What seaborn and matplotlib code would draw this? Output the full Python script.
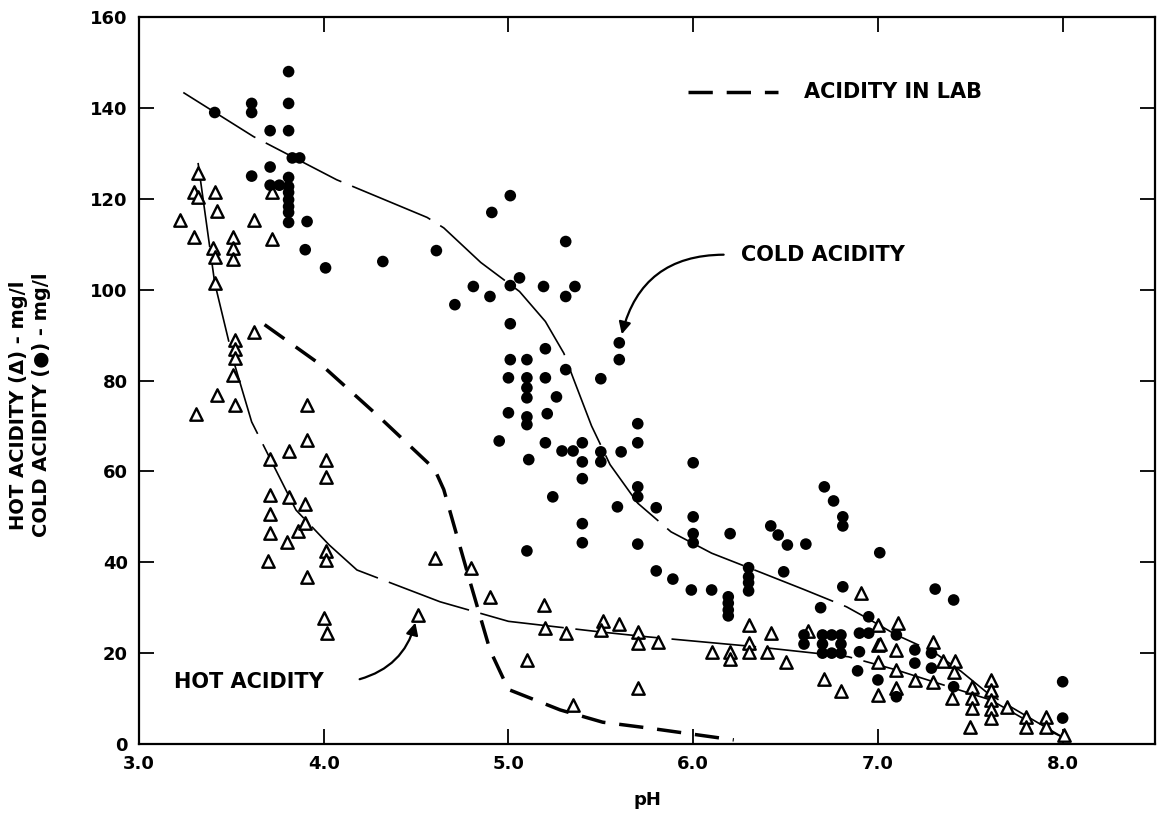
"""Hot and cold acidity against pH, redrawn from a scanned figure."""
import matplotlib

matplotlib.use("Agg")
import matplotlib.pyplot as plt
import pandas as pd
import seaborn as sns

INK = "black"

# cold acidity (filled circles)
cold_ph = [3.41, 3.61, 3.61, 3.71, 3.81, 3.81, 3.81, 3.83, 3.87, 3.71, 3.61, 3.71, 3.76,
           3.81, 3.81, 3.81, 3.81, 3.81, 3.81, 3.81, 3.91, 3.90, 4.01, 4.32, 4.61, 4.71,
           4.81, 4.90, 4.91, 5.01, 5.06, 5.01, 5.31, 5.19, 5.36, 5.31, 5.01, 5.20, 5.60,
           5.60, 5.01, 5.10, 5.00, 5.10, 5.20, 5.31, 5.50, 5.10, 5.10, 5.26, 5.00, 5.10,
           5.10, 5.21, 5.70, 5.70, 4.95, 5.20, 5.29, 5.35, 5.40, 5.50, 5.61, 5.11, 5.40,
           5.50, 6.00, 5.40, 5.70, 5.24, 5.70, 5.59, 5.80, 6.00, 6.00, 6.00, 6.20, 5.70,
           5.80, 5.89, 5.99, 6.10, 6.19, 6.19, 6.19, 6.19, 6.30, 6.30, 6.30, 6.30, 6.71,
           6.76, 6.81, 6.81, 6.42, 6.46, 6.51, 6.61, 6.49, 7.01, 6.81, 6.69, 5.10, 5.40,
           5.40, 7.31, 7.41, 8.00, 8.00, 6.95, 6.90, 6.95, 6.90, 6.89, 7.00, 7.10, 7.20,
           7.20, 7.29, 7.29, 7.10, 7.41, 6.60, 6.60, 6.70, 6.70, 6.70, 6.75, 6.75, 6.80,
           6.80, 6.80]
cold_val = [139, 141, 139, 135, 135, 148, 141, 129, 129, 127, 125, 123, 123,
            124.7, 122.7, 121.4, 119.8, 118.3, 117, 114.8, 115, 108.8, 104.8, 106.2, 108.6, 96.7,
            100.7, 98.5, 117, 120.7, 102.6, 100.9, 110.6, 100.7, 100.7, 98.5, 92.5, 87, 88.3,
            84.6, 84.6, 84.6, 80.6, 80.6, 80.6, 82.4, 80.4, 78.4, 76.2, 76.4, 72.9, 72,
            70.3, 72.7, 70.5, 66.3, 66.7, 66.3, 64.5, 64.5, 66.3, 64.3, 64.3, 62.6, 62.1,
            62.1, 61.9, 58.4, 56.6, 54.4, 54.4, 52.2, 52, 50, 46.3, 44.3, 46.3, 44,
            38.1, 36.3, 33.9, 33.9, 32.4, 31, 29.5, 28.2, 38.8, 36.8, 35.5, 33.7, 56.6,
            53.5, 50, 48, 48, 46, 43.8, 44, 37.9, 42.1, 34.6, 30, 42.5, 48.5,
            44.3, 34.1, 31.7, 13.7, 5.7, 28, 24.4, 24.4, 20.3, 16.1, 14.1, 24, 20.7,
            17.8, 20, 16.7, 10.4, 12.6, 24, 22, 24, 22, 20, 24, 20, 24,
            22, 20]

# hot acidity (open triangles)
hot_ph = [3.32, 3.30, 3.32, 3.41, 3.42, 3.22, 3.30, 3.40, 3.41, 3.51, 3.51, 3.51, 3.62,
          3.72, 3.72, 3.41, 3.52, 3.52, 3.52, 3.51, 3.62, 3.42, 3.52, 3.31, 3.91, 3.91,
          3.81, 4.01, 4.01, 3.71, 3.71, 3.81, 3.90, 3.71, 3.71, 3.86, 3.90, 3.80, 3.70,
          4.01, 4.01, 3.91, 4.00, 4.02, 4.60, 4.51, 4.90, 4.80, 5.10, 5.19, 5.20, 5.31,
          5.35, 5.51, 5.60, 5.50, 5.70, 5.70, 5.81, 5.70, 6.10, 6.20, 6.20, 6.30, 6.30,
          6.30, 6.42, 6.40, 6.50, 6.62, 6.71, 6.80, 6.91, 7.00, 7.00, 7.00, 7.00, 7.11,
          7.01, 7.10, 7.10, 7.10, 7.30, 7.35, 7.42, 7.20, 7.30, 7.41, 7.40, 7.51, 7.51,
          7.51, 7.50, 7.61, 7.61, 7.61, 7.61, 7.61, 7.70, 7.80, 7.80, 7.91, 7.91, 8.01]
hot_val = [125.7, 121.4, 120.3, 121.4, 117.4, 115.4, 111.5, 109.2, 107.3, 111.5, 109.2, 106.8, 115.4,
           121.4, 111.2, 101.5, 89, 87, 85, 81.3, 90.7, 76.9, 74.7, 72.7, 74.7, 67,
           64.5, 62.6, 58.8, 62.8, 54.8, 54.4, 52.9, 50.7, 46.5, 46.9, 48.7, 44.5, 40.3,
           42.5, 40.5, 36.8, 27.8, 24.4, 41, 28.4, 32.4, 38.8, 18.5, 30.6, 25.5, 24.4,
           8.6, 27.1, 26.4, 25, 24.7, 22.2, 22.5, 12.3, 20.3, 20.3, 18.7, 26.2, 22.2,
           20.3, 24.4, 20.3, 18.1, 24.9, 14.3, 11.7, 33.3, 26.2, 21.8, 18.1, 10.8, 26.7,
           22, 20.7, 16.3, 12.3, 22.5, 18.3, 18.3, 14.1, 13.7, 15.9, 10.1, 12.6, 10.1,
           7.9, 3.7, 14.1, 11.9, 9.7, 7.7, 5.7, 8.1, 5.9, 3.7, 5.9, 3.7, 2]

# hand-drawn fit curves
cold_curve_ph = [3.24, 3.62, 4.07, 4.56, 4.65, 4.85, 5.06, 5.20, 5.30, 5.35, 5.45, 5.55,
                 5.70, 5.88, 6.10, 6.37, 6.60, 6.83, 6.95, 7.10, 7.30, 7.45, 7.60, 8.00]
cold_curve_val = [143.4, 133.7, 124.2, 115.9, 113.6, 106, 99.6, 93, 86, 80.6, 70, 61.5,
                  53, 46.7, 42, 37.7, 34, 30.2, 27.5, 24, 20.3, 16, 11, 1.5]
hot_curve_ph = [3.32, 3.41, 3.51, 3.61, 3.71, 3.85, 4.03, 4.18, 4.63, 5.00, 5.49, 5.75,
                6.34, 6.84, 7.10, 7.30, 7.61, 7.80, 8.00]
hot_curve_val = [127.9, 101.5, 84.6, 70.9, 62.8, 51.5, 43.8, 38.3, 31.3, 27, 24.7, 23.6,
                 21.4, 19.2, 16.3, 13.7, 9.7, 5.3, 1.5]
lab_ph = [3.68, 4.00, 4.30, 4.60, 4.65, 4.72, 4.79, 4.90, 5.00, 5.28, 5.51, 5.76, 6.22]
lab_val = [92.3, 83, 72, 60.5, 56, 46, 36, 20.7, 12, 7.5, 4.8, 3.5, 0.9]

X_TICKS = [3.0, 4.0, 5.0, 6.0, 7.0, 8.0]
Y_TICKS = [0, 20, 40, 60, 80, 100, 120, 140, 160]


def main() -> None:
    sns.set_theme(style="white")
    plt.rcParams.update({
        "font.family": ["DejaVu Sans"], "font.weight": "bold",
        "axes.edgecolor": INK, "axes.linewidth": 1.6, "axes.labelcolor": INK,
        "xtick.color": INK, "ytick.color": INK, "text.color": INK,
    })

    fig = plt.figure(figsize=(11.6, 8.14), dpi=100)
    ax = fig.add_axes([0.1198, 0.086, 0.8759, 0.893])

    curve_style = dict(color=INK, lw=1.2, sort=False, estimator=None, legend=False)
    sns.lineplot(x=cold_curve_ph, y=cold_curve_val, ax=ax, dashes=False, **curve_style)
    sns.lineplot(x=hot_curve_ph, y=hot_curve_val, ax=ax, dashes=False, **curve_style)
    for line in ax.lines:
        line.set_linestyle((0, (51, 7)))
    sns.lineplot(x=lab_ph, y=lab_val, ax=ax, color=INK, lw=2.5, sort=False,
                 estimator=None, legend=False)
    ax.lines[-1].set_linestyle((0, (7, 4)))

    sns.scatterplot(x=hot_ph, y=hot_val, ax=ax, marker="^", s=80, facecolor="white",
                    edgecolor=INK, linewidth=1.7, zorder=3)
    sns.scatterplot(x=cold_ph, y=cold_val, ax=ax, marker="o", s=70, color=INK,
                    edgecolor="none", zorder=4)

    # legend entry for the lab curve, drawn as in the original
    key = pd.DataFrame({"x": [5.97, 6.46], "y": [143.6, 143.6]})
    sns.lineplot(data=key, x="x", y="y", ax=ax, color=INK, lw=2.5, legend=False)
    ax.lines[-1].set_linestyle((0, (7, 4)))
    ax.text(6.6, 143.6, "ACIDITY IN LAB", fontsize=15, va="center", ha="left")

    ax.text(6.26, 107.7, "COLD ACIDITY", fontsize=15, va="center", ha="left")
    ax.annotate("", xy=(5.61, 89.6), xytext=(6.18, 107.7),
                arrowprops=dict(arrowstyle="-|>", color=INK, lw=1.6, mutation_scale=18,
                                connectionstyle="arc3,rad=0.4"))
    ax.text(3.19, 13.7, "HOT ACIDITY", fontsize=15, va="center", ha="left")
    ax.annotate("", xy=(4.50, 27.3), xytext=(4.18, 14.1),
                arrowprops=dict(arrowstyle="-|>", color=INK, lw=1.6, mutation_scale=18,
                                connectionstyle="arc3,rad=0.3"))

    ax.set_xlim(3.0, 8.5)
    ax.set_ylim(0, 160)
    ax.set_xticks(X_TICKS)
    ax.set_xticklabels([f"{t:.1f}" for t in X_TICKS])
    ax.set_yticks(Y_TICKS)
    ax.tick_params(direction="in", length=11, width=1.3, labelsize=13,
                   top=True, right=True, bottom=True, left=True, pad=8)
    for lbl in ax.get_xticklabels() + ax.get_yticklabels():
        lbl.set_fontweight("bold")
    for spine in ax.spines.values():
        spine.set_visible(True)
    ax.set_xlabel("pH", fontsize=13, fontweight="bold", labelpad=13)
    ax.set_ylabel("")

    fig.text(19 / 1160, 1 - 405 / 814, "HOT ACIDITY (\u0394) - mg/l", rotation=90,
             fontsize=14, ha="center", va="center")
    fig.text(42 / 1160, 1 - 405 / 814, "COLD ACIDITY (\u25cf) - mg/l", rotation=90,
             fontsize=14, ha="center", va="center")

    fig.savefig("out.png", dpi=100, facecolor="white")
    plt.close(fig)


if __name__ == "__main__":
    main()
